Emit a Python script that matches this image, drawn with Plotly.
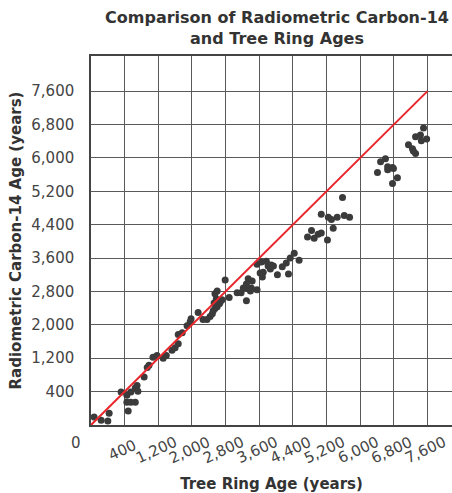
import plotly.graph_objects as go

# Tree ring age (x) and radiometric C-14 age (y), in years
tree_ring_age = [70, 230, 380, 410, 680, 810, 900, 810, 900, 1000, 840, 1000, 1040, 1060,
                 1200, 1270, 1310, 1400, 1490, 1630, 1700, 1830, 1900, 1970, 1970, 2060,
                 2170, 2240, 2260, 2420, 2530, 2620, 2690, 2740, 2760, 2800, 2850, 2900,
                 2920, 2960, 2780, 2830, 2800, 2850, 3030, 3120, 3300, 3390, 3510, 3440,
                 3510, 3550, 3620, 3600, 3550, 3640, 3750, 3750, 3850, 3820, 3890, 3870,
                 3960, 4000, 4050, 4070, 4120, 4210, 4320, 4410, 4460, 4500, 4590, 4700,
                 4890, 4980, 5040, 5130, 5200, 5340, 5200, 5360, 5430, 5470, 5560, 5720,
                 5840, 5680, 6470, 6540, 6650, 6700, 6700, 6810, 6830, 6810, 6920, 7170,
                 7260, 7280, 7330, 7330, 7440, 7510, 7460, 7580]
carbon14_age = [180, 110, 90, 270, 750, 680, 750, 520, 520, 520, 320, 840, 900, 770,
                1090, 1310, 1360, 1540, 1580, 1520, 1580, 1700, 1760, 1850, 2060, 2100,
                2260, 2350, 2420, 2560, 2400, 2400, 2470, 2530, 2600, 2650, 2690, 2760,
                2800, 2850, 2780, 2870, 2990, 3050, 3300, 2900, 3010, 3010, 2830, 3120,
                3210, 3100, 3120, 3050, 3330, 3280, 3080, 3660, 3710, 3460, 3480, 3370,
                3730, 3620, 3550, 3640, 3620, 3420, 3600, 3690, 3440, 3800, 3910, 3750,
                4280, 4430, 4250, 4340, 4370, 4210, 4800, 4730, 4680, 4480, 4730, 4770,
                4730, 5180, 5750, 5990, 6060, 5810, 5880, 5860, 5840, 5500, 5630, 6380,
                6290, 6240, 6180, 6560, 6600, 6760, 6470, 6510]

# Reference line of equal ages
line_x = [0, 7600]
line_y = [0, 7600]

# Axis tick labels as printed on the chart (one per grid line)
tick_labels = ["400", "1,200", "2,000", "2,800", "3,600", "4,400",
               "5,200", "6,000", "6,800", "7,600"]
cell = 760
tick_vals = [cell * (i + 1) for i in range(len(tick_labels))]

font_family = "DejaVu Sans, Verdana, sans-serif"
grid_color = "#5a5a5a"

fig = go.Figure()
fig.add_trace(go.Scatter(x=tree_ring_age, y=carbon14_age, mode="markers",
                         marker=dict(size=7, color="#3b3b3b"), showlegend=False,
                         hoverinfo="x+y"))
fig.add_trace(go.Scatter(x=line_x, y=line_y, mode="lines",
                         line=dict(color="#e8272d", width=2), showlegend=False))

annotations = []
for v, t in zip(tick_vals, tick_labels):
    annotations.append(dict(x=v, y=0, xref="x", yref="paper", text=t, showarrow=False,
                            textangle=-25, xanchor="center", yanchor="middle",
                            xshift=-2, yshift=-25,
                            font=dict(family=font_family, size=15, color="#444")))
annotations.append(dict(x=0, y=0, xref="x", yref="paper", text="0", showarrow=False,
                        xanchor="center", yanchor="middle", xshift=-15, yshift=-18,
                        font=dict(family=font_family, size=15, color="#444")))

fig.update_layout(
    width=452, height=493,
    margin=dict(l=91, r=0, t=56, b=68, autoexpand=False),
    paper_bgcolor="white", plot_bgcolor="white",
    font=dict(family=font_family, color="#333"),
    title=dict(text="<b>Comparison of Radiometric Carbon-14<br>and Tree Ring Ages</b>",
               font=dict(family=font_family, size=16, color="#333"),
               x=277 / 452, xref="container", xanchor="center",
               y=1 - 23 / 493, yref="container", yanchor="middle"),
    annotations=annotations,
    xaxis=dict(range=[0, 8153], tick0=0, dtick=cell, showticklabels=False,
               showgrid=True, gridcolor=grid_color, gridwidth=1, zeroline=False,
               showline=True, linecolor="#444", linewidth=1.5, mirror=True,
               ticks="", automargin=False,
               title=dict(text="<b>Tree Ring Age (years)</b>", standoff=53,
                          font=dict(family=font_family, size=15, color="#333"))),
    yaxis=dict(range=[0, 8400], tickvals=tick_vals, ticktext=tick_labels,
               showgrid=True, gridcolor=grid_color, gridwidth=1, zeroline=False,
               showline=True, linecolor="#444", linewidth=1.5, ticks="",
               ticklabelstandoff=12, automargin=False,
               tickfont=dict(family=font_family, size=15, color="#444"),
               title=dict(text="<b>Radiometric Carbon-14 Age (years)</b>", standoff=6,
                          font=dict(family=font_family, size=15, color="#333"))),
)
fig.write_html("out.html", config={"displayModeBar": False},
               post_script="document.body.style.margin='0';"
                           "document.body.style.overflow='hidden';")
